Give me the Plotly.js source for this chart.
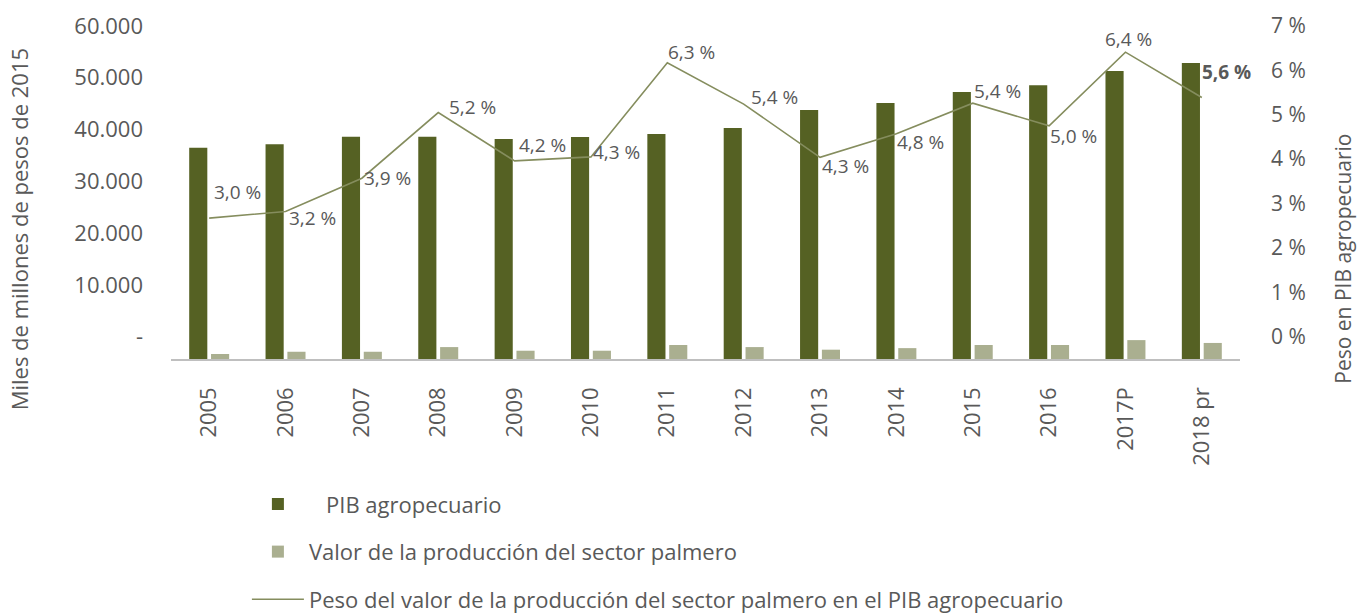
<!DOCTYPE html>
<html>
<head>
<meta charset="utf-8">
<script src="https://cdn.plot.ly/plotly-3.0.1.min.js"></script>
<style>html,body{margin:0;padding:0;background:#fff;}#chart{width:1358px;height:616px;}</style>
</head>
<body>
<div id="chart"></div>
<script>
// ---- data ----
const categories = ["2005","2006","2007","2008","2009","2010","2011","2012","2013","2014","2015","2016","2017P","2018 pr"];
const pibAgro = [40800, 41500, 42950, 42950, 42500, 42900, 43450, 44600, 48100, 49450, 51600, 52900, 55650, 57200];
const valorPalmero = [970, 1400, 1400, 2300, 1600, 1600, 2700, 2300, 1800, 2100, 2700, 2700, 3650, 3100];
const pesoPct = [2.67, 2.82, 3.57, 5.05, 3.96, 4.05, 6.17, 5.24, 4.04, 4.57, 5.26, 4.75, 6.41, 5.39];
const pesoLabels = ["3,0 %","3,2 %","3,9 %","5,2 %","4,2 %","4,3 %","6,3 %","5,4 %","4,3 %","4,8 %","5,4 %","5,0 %","6,4 %","5,6 %"];
const leftTickVals = [0, 10000, 20000, 30000, 40000, 50000, 60000];
const leftTickText = ["-", "10.000", "20.000", "30.000", "40.000", "50.000", "60.000"];
const rightTickVals = [0, 1, 2, 3, 4, 5, 6, 7];
const rightTickText = ["0 %", "1 %", "2 %", "3 %", "4 %", "5 %", "6 %", "7 %"];
const seriesNames = ["\u00a0\u00a0\u00a0PIB agropecuario", "Valor de la producción del sector palmero", "Peso del valor de la producción del sector palmero en el PIB agropecuario"];
const leftTitle = "Miles de millones de pesos de 2015";
const rightTitle = "Peso en PIB agropecuario";

// ---- styling ----
const FONT = "'Open Sans', 'Noto Sans', sans-serif";
const TXT = "#595959";
const DARK = "#556123";
const LIGHT = "#AAAF90";
const LINE = "#858D5E";
// label placement offsets (px) for the percentage labels
const labelShift = [[28,26],[27,-7],[26,0],[34,6],[28,16],[26,5],[24,11],[31,7],[25,-9],[24,-8],[25,12],[24,-10],[3,13],[25,25]];

const traces = [
  {type:"bar", x:categories, y:pibAgro, name:seriesNames[0], marker:{color:DARK}, yaxis:"y", legendgroup:"a", hoverinfo:"x+y"},
  {type:"bar", x:categories, y:valorPalmero, name:seriesNames[1], marker:{color:LIGHT}, yaxis:"y", legendgroup:"b", hoverinfo:"x+y"},
  {type:"scatter", mode:"lines", x:categories, y:pesoPct, name:seriesNames[2], line:{color:LINE, width:1.6}, yaxis:"y2", legendgroup:"c", hoverinfo:"x+y"},
  // empty trace so that the left value axis (y3) is drawn
  {type:"scatter", mode:"markers", x:[], y:[], yaxis:"y3", showlegend:false, hoverinfo:"skip"}
];

const annotations = [];
categories.forEach((c, i) => {
  annotations.push({
    x: i, y: pesoPct[i], xref: "x", yref: "y2", showarrow: false,
    text: i === categories.length - 1 ? "<b>" + pesoLabels[i] + "</b>" : pesoLabels[i],
    xshift: labelShift[i][0], yshift: labelShift[i][1],
    font: {family: FONT, size: 19, color: TXT}
  });
});
annotations.push({x:-0.142, y:0.39, xref:"paper", yref:"paper", xanchor:"center", yanchor:"middle", showarrow:false,
  text:leftTitle, textangle:-90, font:{family:FONT, size:22, color:TXT}});
annotations.push({x:1.096, y:0.30, xref:"paper", yref:"paper", xanchor:"center", yanchor:"middle", showarrow:false,
  text:rightTitle, textangle:-90, font:{family:FONT, size:21, color:TXT}});

const layout = {
  width: 1358, height: 616,
  margin: {l: 171, r: 118, t: 26, b: 257, autoexpand: false},
  paper_bgcolor: "#fff", plot_bgcolor: "#fff",
  font: {family: FONT, color: TXT, size: 19},
  barmode: "group", bargap: 0.428, bargroupgap: 0.17,
  showlegend: true,
  legend: {orientation: "v", x: 0.071, xanchor: "left", y: -0.373, yanchor: "top", itemwidth: 52,
           font: {family: FONT, size: 22, color: TXT}, tracegroupgap: 16, bgcolor: "rgba(0,0,0,0)"},
  xaxis: {type: "category", range: [-0.5, 13.5], tickangle: -90, ticks: "", ticklabelstandoff: 18,
          tickfont: {family: FONT, size: 22, color: TXT}, showgrid: false,
          showline: true, linecolor: "#BFBFBF", linewidth: 1.5, zeroline: false, fixedrange: true},
  yaxis: {range: [0, 64327], visible: false, showgrid: false, zeroline: false, fixedrange: true},
  yaxis3: {range: [-4327, 60000], overlaying: "y", side: "left", anchor: "x", tickmode: "array",
           tickvals: leftTickVals, ticktext: leftTickText, showgrid: false, zeroline: false, showline: false,
           ticks: "", ticklabelstandoff: 27, tickfont: {family: FONT, size: 22, color: TXT}, fixedrange: true},
  yaxis2: {range: [-0.505, 7], overlaying: "y", side: "right", anchor: "x", tickmode: "array",
           tickvals: rightTickVals, ticktext: rightTickText, showgrid: false, zeroline: false, showline: false,
           ticks: "", ticklabelstandoff: 30, tickfont: {family: FONT, size: 21, color: TXT}, fixedrange: true},
  annotations: annotations
};

Plotly.newPlot("chart", traces, layout, {displayModeBar: false, staticPlot: true});
</script>
</body>
</html>
